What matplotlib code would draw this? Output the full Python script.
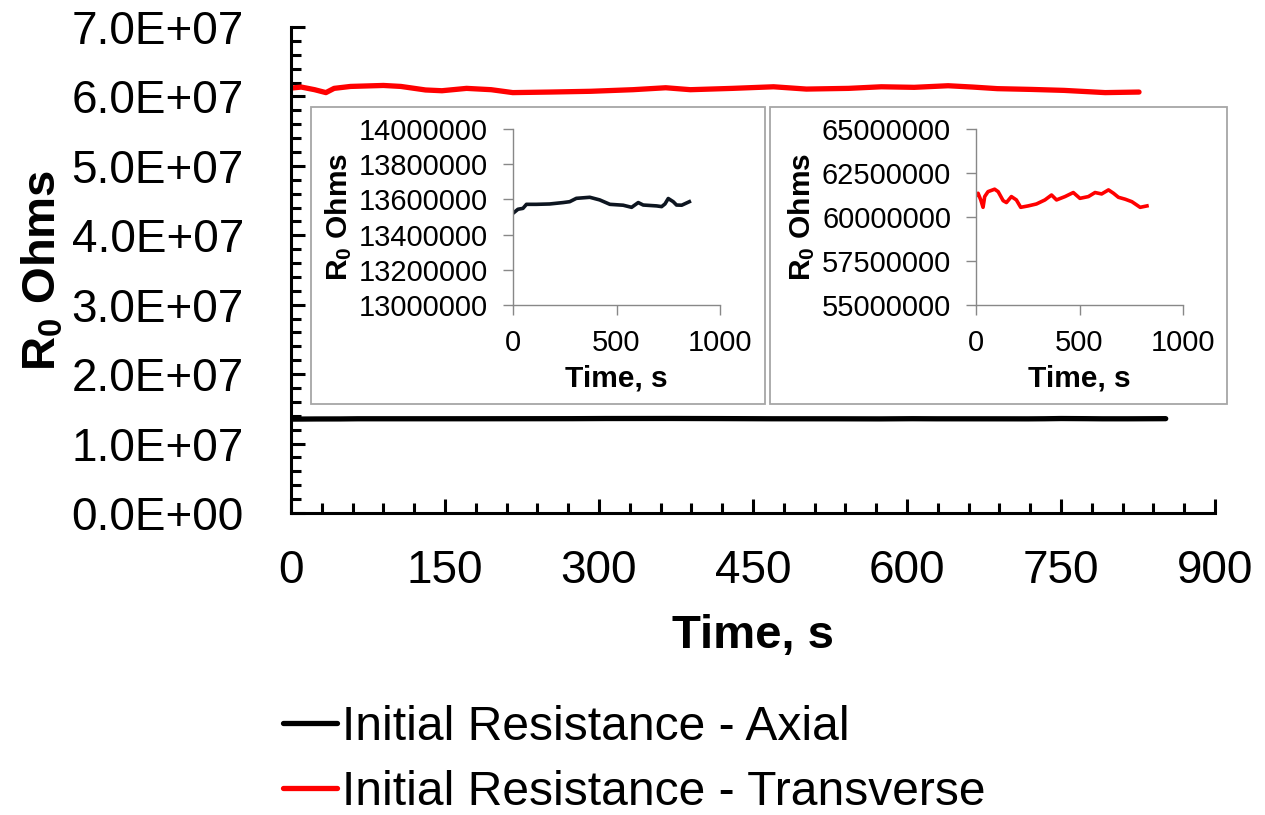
import matplotlib
matplotlib.use('Agg')
import matplotlib.pyplot as plt
from matplotlib.ticker import MultipleLocator, FuncFormatter
from matplotlib.patches import Rectangle

plt.rcParams['font.family'] = 'Liberation Sans'
plt.rcParams['mathtext.fontset'] = 'custom'
plt.rcParams['mathtext.rm'] = 'Liberation Sans'
plt.rcParams['mathtext.bf'] = 'Liberation Sans:bold'

# data (time in s, resistance in ohms)
axial_t = [0, 24, 48, 65, 113, 177, 242, 274, 306, 371, 419, 468, 532, 573,
           605, 629, 694, 718, 734, 750, 774, 790, 815, 852]
axial_r = [13521000, 13544000, 13549000, 13572000, 13572000, 13574000,
           13582000, 13587000, 13606000, 13612000, 13597000, 13572000,
           13567000, 13555000, 13582000, 13568000, 13563000, 13559000,
           13574000, 13605000, 13587000, 13568000, 13567000, 13587000]

trans_t = [0, 10, 23, 34, 42, 58, 90, 107, 131, 147, 171, 195, 216, 252,
           292, 333, 365, 389, 430, 470, 502, 543, 575, 607, 640, 664, 688,
           721, 753, 793, 826]
trans_r = [61200000, 61350000, 60970000, 60550000, 61160000, 61440000,
           61580000, 61440000, 60930000, 60820000, 61160000, 60970000,
           60550000, 60630000, 60740000, 60970000, 61250000, 60970000,
           61160000, 61390000, 61060000, 61160000, 61390000, 61310000,
           61540000, 61350000, 61120000, 61010000, 60870000, 60550000,
           60630000]

W, H = 1265, 815
fig = plt.figure(figsize=(W / 100, H / 100), dpi=100)

def fx(px):
    return px / W

def fy(py):
    return 1 - py / H

# main chart
ax = fig.add_axes([fx(291), fy(513), fx(1215 - 291), (513 - 27) / H])
ax.plot(axial_t, axial_r, color='black', lw=3.8, solid_capstyle='round',
        label='Initial Resistance - Axial')
ax.plot(trans_t, trans_r, color='#ff0000', lw=3.8, solid_capstyle='round',
        label='Initial Resistance - Transverse')
ax.set_xlim(0, 900)
ax.set_ylim(0, 7e7)
ax.xaxis.set_major_locator(MultipleLocator(150))
ax.xaxis.set_minor_locator(MultipleLocator(30))
ax.yaxis.set_major_locator(MultipleLocator(1e7))
ax.yaxis.set_minor_locator(MultipleLocator(2e6))
ax.yaxis.set_major_formatter(FuncFormatter(lambda v, p: f'{v:.1E}'))
for s in ['top', 'right']:
    ax.spines[s].set_visible(False)
for s in ['left', 'bottom']:
    ax.spines[s].set_linewidth(2.2)
ax.tick_params(which='both', direction='in', width=2.2, labelsize=33)
ax.tick_params(which='major', length=10)
ax.tick_params(which='minor', length=7.5)
ax.tick_params(axis='x', which='major', pad=26)
ax.tick_params(axis='y', which='major', pad=34)
ax.set_xlabel('Time, s', fontsize=34, fontweight='bold', labelpad=15)
ax.set_ylabel(r'$\mathbf{R_0}$ Ohms', fontsize=34, fontweight='bold', labelpad=4)

fig.legend(loc='upper left', bbox_to_anchor=(fx(283), fy(705)),
           frameon=False, fontsize=34.6, borderpad=0, borderaxespad=0,
           handlelength=1.13, handletextpad=0.1, labelspacing=0.41)

# inset frames
for x0, x1 in [(311, 765), (770, 1227)]:
    fig.patches.append(Rectangle((fx(x0), fy(404)), fx(x1 - x0), (404 - 107) / H,
                                 transform=fig.transFigure, facecolor='white',
                                 edgecolor='#a6a6a6', lw=1.3, zorder=1))

def inset(left_px, t, r, color, ylo, yhi, ystep):
    a = fig.add_axes([fx(left_px), fy(305), fx(207), 176 / H], zorder=2)
    a.plot(t, r, color=color, lw=2.6)
    a.set_xlim(0, 1000)
    a.set_ylim(ylo, yhi)
    a.xaxis.set_major_locator(MultipleLocator(500))
    a.yaxis.set_major_locator(MultipleLocator(ystep))
    a.yaxis.set_major_formatter(FuncFormatter(lambda v, p: f'{int(round(v))}'))
    a.patch.set_alpha(0)
    for s in ['top', 'right']:
        a.spines[s].set_visible(False)
    for s in ['left', 'bottom']:
        a.spines[s].set_color('#888888')
        a.spines[s].set_linewidth(1.0)
    a.tick_params(direction='out', length=7, width=1.0, color='#888888',
                  labelsize=20.9)
    a.tick_params(axis='y', pad=11)
    a.tick_params(axis='x', pad=10)
    a.set_xlabel('Time, s', fontsize=21.5, fontweight='bold', labelpad=6)
    a.set_ylabel(r'$\mathbf{R_0}$ Ohms', fontsize=21.5, fontweight='bold', labelpad=3.5)
    return a

inset(513, axial_t, axial_r, '#0d1520', 13000000, 14000000, 200000)
inset(976, trans_t, trans_r, '#ff0000', 55000000, 65000000, 2500000)

fig.savefig('out.png', dpi=100)
